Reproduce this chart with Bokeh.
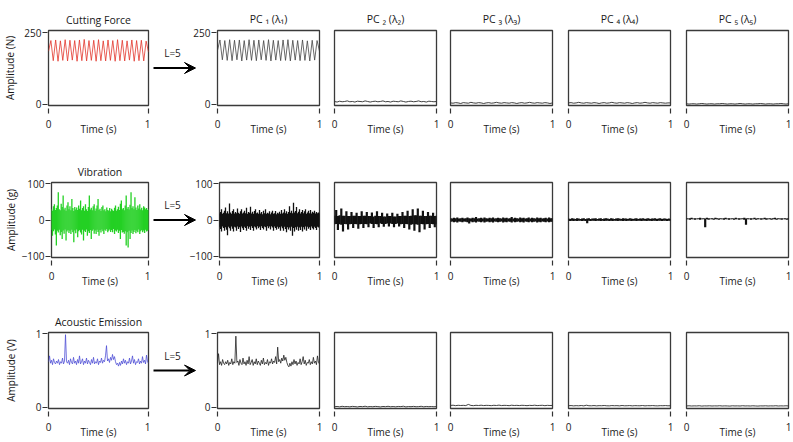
import numpy as np
from bokeh.plotting import figure
from bokeh.layouts import row, column
from bokeh.models import Range1d, FixedTicker, Arrow, VeeHead, Label
from bokeh.embed import file_html
from bokeh.resources import INLINE

# ---------------- data ----------------
row_titles = ["Cutting Force", "Vibration", "Acoustic Emission"]
row_ylabels = ["Amplitude (N)", "Amplitude (g)", "Amplitude (V)"]
pc_titles = ["PC \u2081 (\u03bb\u2081)", "PC \u2082 (\u03bb\u2082)", "PC \u2083 (\u03bb\u2083)",
             "PC \u2084 (\u03bb\u2084)", "PC \u2085 (\u03bb\u2085)"]
x_ticks = [0, 1]
row_yticks = [[0, 250], [-100, 0, 100], [0, 1]]
arrow_text = "L=5"

# cutting force (N)
cf_raw = [185, 222, 152, 224, 150, 221, 153, 225, 151, 223, 154, 222, 150, 224, 152, 226, 151, 222,
          153, 223, 150, 225, 152, 221, 151, 224, 153, 222, 150, 225, 152, 223, 151, 221, 154, 224,
          150, 222, 152, 223, 151, 220, 182]
cf_pc1 = [188, 224, 155, 222, 153, 225, 152, 223, 155, 224, 151, 222, 154, 225, 153, 223, 152, 224,
          155, 222, 153, 225, 151, 223, 154, 222, 152, 224, 153, 225, 151, 223, 154, 222, 152, 224,
          153, 221, 151, 223, 154, 222, 185]
cf_pc2 = [10, 8, 11, 9, 10, 12, 9, 10, 8, 11, 10, 9, 12, 10, 8, 10, 11, 9, 10, 12,
          9, 10, 8, 11, 10, 9, 12, 10, 8, 10, 11, 9, 10, 12, 9, 10, 8, 11, 10, 9, 10]
cf_pc3 = [5, 4, 6, 5, 3, 6, 5, 4, 7, 5, 4, 6, 5, 3, 5, 6, 4, 5, 7, 5,
          4, 6, 5, 4, 6, 5, 3, 5, 6, 4, 5, 7, 5, 4, 6, 5, 4, 6, 5, 3, 5]
cf_pc4 = [5, 6, 4, 5, 7, 5, 4, 6, 5, 4, 6, 5, 3, 5, 6, 4, 5, 7, 5, 4,
          6, 5, 4, 6, 5, 3, 5, 6, 4, 5, 7, 5, 4, 6, 5, 4, 6, 5, 4, 5, 5]
cf_pc5 = [2, 1, 2, 2, 1, 2, 3, 2, 1, 2, 2, 1, 2, 2, 3, 2, 1, 2, 2, 1,
          2, 3, 2, 1, 2, 2, 1, 2, 2, 3, 2, 1, 2, 2, 1, 2, 2, 3, 2, 1, 2]

# vibration (g): upper / lower envelope per sample
vib_raw_up = [30, 26, 38, 44, 28, 33, 40, 77, 30, 27,
              45, 36, 68, 29, 34, 26, 40, 49, 30, 38,
              27, 58, 33, 25, 36, 29, 35, 28, 40, 31,
              54, 27, 33, 38, 26, 44, 30, 25, 36, 68,
              29, 34, 27, 38, 44, 26, 32, 40, 58, 28,
              31, 25, 36, 40, 27, 30, 24, 35, 28, 26,
              33, 24, 31, 27, 25, 34, 40, 26, 30, 37,
              28, 45, 54, 30, 33, 27, 40, 68, 31, 36,
              29, 42, 77, 33, 38, 30, 63, 35, 28, 40,
              32, 44, 29, 34, 27, 38, 35, 30, 33, 28, 30]
vib_raw_lo = [-28, -44, -31, -26, -40, -71, -30, -35, -27, -42,
              -33, -53, -29, -38, -26, -57, -32, -28, -36, -30,
              -39, -27, -34, -62, -29, -37, -26, -48, -31, -28,
              -35, -40, -27, -57, -30, -33, -26, -44, -31, -36,
              -28, -53, -30, -26, -38, -29, -39, -27, -33, -44,
              -28, -35, -26, -31, -39, -27, -30, -25, -34, -30,
              -26, -33, -28, -34, -25, -39, -29, -32, -27, -36,
              -30, -53, -28, -35, -33, -38, -31, -71, -34, -76,
              -30, -53, -36, -29, -39, -33, -28, -37, -30, -34,
              -26, -39, -31, -28, -34, -29, -36, -27, -32, -30, -28]
vib_pc1_up = [18, 22, 30, 17, 20, 26, 35, 19, 24, 18,
              46, 21, 17, 25, 30, 18, 22, 19, 32, 20,
              17, 24, 30, 18, 21, 26, 19, 34, 17, 22,
              20, 37, 18, 23, 17, 25, 30, 19, 21, 17,
              28, 18, 22, 16, 26, 19, 30, 17, 20, 18,
              24, 16, 21, 26, 17, 19, 25, 16, 20, 18,
              23, 17, 28, 18, 21, 30, 19, 24, 17, 22,
              38, 20, 26, 19, 48, 21, 25, 36, 19, 23,
              30, 18, 22, 28, 19, 24, 30, 17, 21, 26,
              19, 28, 18, 23, 20, 26, 18, 22, 19, 21, 18]
vib_pc1_lo = [-19, -25, -32, -18, -22, -30, -20, -27, -42, -19,
              -23, -30, -18, -24, -32, -19, -21, -30, -18, -25,
              -20, -33, -18, -23, -28, -19, -22, -30, -17, -24,
              -19, -28, -17, -22, -30, -18, -21, -26, -17, -23,
              -19, -28, -17, -22, -26, -18, -20, -30, -17, -23,
              -18, -26, -17, -21, -30, -18, -22, -27, -19, -24,
              -20, -30, -18, -23, -30, -19, -25, -34, -20, -26,
              -21, -30, -19, -44, -22, -32, -20, -27, -19, -30,
              -21, -28, -19, -32, -20, -26, -18, -30, -19, -24,
              -20, -28, -18, -23, -26, -19, -22, -28, -19, -21, -18]
vib_pc2_up = [12, 28, 11, 13, 32, 12, 12, 24, 11, 11, 22, 12, 12, 20, 11, 11, 24, 12, 12, 22,
              11, 11, 21, 10, 12, 24, 11, 11, 20, 10, 10, 18, 11, 11, 20, 10, 10, 17, 11, 11,
              22, 12, 12, 26, 11, 12, 30, 13, 13, 32, 12, 12, 26, 11, 11, 22, 12, 12, 20, 11, 12]
vib_pc2_lo = [-12, -11, -28, -12, -13, -32, -11, -12, -26, -12, -11, -22, -11, -12, -24, -12, -11, -22, -11, -12,
              -20, -10, -11, -22, -11, -12, -20, -10, -11, -19, -11, -10, -18, -10, -11, -20, -11, -10, -18, -12,
              -11, -22, -11, -12, -26, -13, -12, -30, -12, -13, -34, -11, -12, -26, -12, -11, -22, -11, -12, -20, -12]
vib_pc3_up = [5, 4, 6, 5, 7, 4, 5, 6, 4, 5, 7, 5, 4, 6, 5, 8, 4, 5, 6, 4,
              7, 5, 4, 6, 5, 7, 4, 5, 6, 5, 4, 7, 5, 6, 4, 5, 8, 4, 6, 5,
              4, 7, 5, 6, 4, 5, 7, 4, 6, 5, 4, 7, 5, 6, 4, 5, 6, 4, 7, 5, 5]
vib_pc3_lo = [-5, -4, -6, -5, -7, -4, -5, -6, -4, -5, -6, -10, -4, -6, -5, -7, -4, -5, -6, -4,
              -7, -5, -4, -6, -5, -7, -4, -5, -6, -5, -4, -7, -5, -6, -4, -5, -7, -4, -6, -5,
              -4, -6, -5, -7, -4, -5, -6, -4, -6, -5, -4, -7, -5, -6, -4, -5, -6, -4, -6, -5, -5]
vib_pc4_up = [4, 3, 5, 4, 3, 5, 4, 3, 4, 5, 3, 4, 5, 3, 4, 4, 5, 3, 4, 5,
              3, 4, 5, 4, 3, 5, 4, 3, 4, 5, 4, 3, 5, 4, 4, 3, 5, 4, 3, 4,
              5, 3, 4, 4, 5, 3, 4, 5, 3, 4, 4, 5, 3, 4, 5, 3, 4, 4, 3, 4, 3]
vib_pc4_lo = [-2, -3, -2, -3, -2, -3, -2, -2, -3, -2, -3, -9, -2, -3, -2, -2, -3, -2, -2, -3,
              -2, -3, -2, -2, -3, -2, -3, -2, -2, -3, -2, -2, -3, -2, -3, -2, -2, -3, -2, -2,
              -3, -2, -2, -3, -2, -2, -3, -2, -2, -3, -2, -2, -3, -2, -2, -3, -2, -2, -3, -2, -2]
vib_pc5_up = [5, 4, 5, 6, 4, 5, 4, 5, 6, 4, 5, 4, 6, 5, 4, 5, 4, 6, 5, 4,
              5, 4, 5, 6, 4, 5, 4, 5, 4, 6, 4, 5, 4, 5, 6, 4, 5, 4, 5, 4,
              6, 4, 5, 4, 5, 4, 6, 5, 4, 5, 4, 5, 6, 4, 5, 4, 5, 4, 5, 4, 5]
vib_pc5_lo = [2, 2, 1, 2, 2, 1, 2, 2, 1, 2, 2, -20, 2, 1, 2, 2, 1, 2, 2, 1,
              2, 2, 1, 2, 2, 1, 2, 2, 1, 2, 2, 1, 2, 2, 1, -13, 2, 2, 1, 2,
              2, 1, 2, 2, 1, 2, 2, 1, 2, 2, 1, 2, 2, 1, 2, 2, 1, 2, 2, 1, 2]

# acoustic emission (V)
ae_raw = [0.62, 0.70, 0.60, 0.64, 0.58, 0.66, 0.61, 0.59, 0.63, 0.60,
          0.65, 0.58, 0.62, 0.60, 0.67, 0.59, 0.63, 0.99, 0.62, 0.60,
          0.64, 0.58, 0.66, 0.61, 0.59, 0.68, 0.60, 0.63, 0.58, 0.65,
          0.60, 0.70, 0.59, 0.62, 0.66, 0.58, 0.63, 0.60, 0.67, 0.59,
          0.64, 0.61, 0.58, 0.65, 0.60, 0.68, 0.59, 0.62, 0.60, 0.66,
          0.58, 0.63, 0.61, 0.67, 0.60, 0.64, 0.62, 0.70, 0.84, 0.63,
          0.66, 0.61, 0.68, 0.64, 0.72, 0.65, 0.69, 0.62, 0.58, 0.60,
          0.56, 0.61, 0.57, 0.63, 0.59, 0.66, 0.60, 0.64, 0.58, 0.62,
          0.60, 0.67, 0.59, 0.63, 0.70, 0.60, 0.65, 0.58, 0.62, 0.61,
          0.66, 0.59, 0.63, 0.60, 0.69, 0.61, 0.64, 0.59, 0.71, 0.62, 0.60]
ae_pc1 = [0.60, 0.73, 0.58, 0.62, 0.57, 0.65, 0.60, 0.58, 0.62, 0.59,
          0.64, 0.57, 0.61, 0.59, 0.66, 0.58, 0.62, 0.60, 0.97, 0.61,
          0.63, 0.57, 0.65, 0.60, 0.58, 0.67, 0.59, 0.62, 0.57, 0.64,
          0.59, 0.69, 0.58, 0.61, 0.65, 0.57, 0.62, 0.59, 0.66, 0.58,
          0.63, 0.60, 0.57, 0.64, 0.59, 0.67, 0.58, 0.61, 0.59, 0.65,
          0.57, 0.62, 0.60, 0.66, 0.59, 0.63, 0.61, 0.69, 0.59, 0.82,
          0.62, 0.65, 0.60, 0.67, 0.63, 0.71, 0.64, 0.68, 0.61, 0.57,
          0.55, 0.60, 0.56, 0.62, 0.58, 0.65, 0.59, 0.63, 0.57, 0.61,
          0.59, 0.66, 0.58, 0.62, 0.69, 0.59, 0.64, 0.57, 0.61, 0.60,
          0.65, 0.58, 0.62, 0.59, 0.68, 0.60, 0.63, 0.58, 0.70, 0.61, 0.59]
ae_pc2 = [0.004, 0.008, 0.003, 0.010, 0.005, 0.007, 0.003, 0.009, 0.006, 0.002,
          0.008, 0.005, 0.011, 0.003, 0.007, 0.004, 0.009, 0.006, 0.002, 0.008,
          0.005, 0.010, 0.004, 0.007, 0.003, 0.008, 0.006, 0.011, 0.002, 0.007,
          0.005, 0.009, 0.004, 0.006, 0.010, 0.003, 0.008, 0.005, 0.007, 0.004, 0.006]
ae_pc3 = [0.022, 0.025, 0.019, 0.024, 0.021, 0.023, 0.020, 0.036, 0.022, 0.019,
          0.024, 0.021, 0.025, 0.020, 0.023, 0.022, 0.019, 0.024, 0.021, 0.026,
          0.020, 0.023, 0.022, 0.019, 0.025, 0.021, 0.023, 0.020, 0.024, 0.022,
          0.019, 0.023, 0.021, 0.025, 0.020, 0.022, 0.024, 0.019, 0.023, 0.021, 0.022]
ae_pc4 = [0.018, 0.020, 0.016, 0.019, 0.017, 0.021, 0.016, 0.025, 0.018, 0.017,
          0.020, 0.016, 0.019, 0.018, 0.021, 0.017, 0.016, 0.020, 0.018, 0.019,
          0.016, 0.021, 0.017, 0.018, 0.020, 0.016, 0.019, 0.018, 0.017, 0.021,
          0.016, 0.019, 0.018, 0.020, 0.017, 0.016, 0.019, 0.018, 0.020, 0.017, 0.018]
ae_pc5 = [0.015, 0.017, 0.014, 0.016, 0.015, 0.018, 0.013, 0.016, 0.015, 0.017,
          0.014, 0.016, 0.015, 0.018, 0.014, 0.016, 0.015, 0.013, 0.017, 0.015,
          0.016, 0.014, 0.018, 0.015, 0.016, 0.014, 0.017, 0.015, 0.013, 0.016,
          0.015, 0.017, 0.014, 0.016, 0.015, 0.018, 0.014, 0.016, 0.015, 0.017, 0.015]

# ---------------- styling / layout ----------------
FONT = "Open Sans"
FRAME_COLOR = "#3a3a3a"
TXT = "#1a1a1a"
row_yranges = [(-4, 257), (-104, 104), (-0.02, 1.02)]
row_heights = [150, 150, 141]
row_top = [30, 32, 32]
row_bottom = [45, 43, 33]
ylab_standoff = [4, 1, 15]
# (width, min_border_left, min_border_right) for col1, PC1..PC5
col_geo = [(150, 46, 2), (140, 31, 7), (116, 8, 6), (117, 8, 7), (118, 9, 7), (115, 9, 4)]
ARROW_W = 50
PC1_OVERLAP = 14


def make_fig(r, c, title=None):
    w, lb, rb = col_geo[c]
    kw = dict(width=w, height=row_heights[r], x_range=Range1d(0, 1),
              y_range=Range1d(*row_yranges[r]), output_backend="svg",
              toolbar_location=None, min_border_left=lb, min_border_right=rb,
              min_border_top=row_top[r], min_border_bottom=row_bottom[r])
    if c > 1:
        kw["y_axis_location"] = None
    if c == 1:
        kw["margin"] = (0, 0, 0, -PC1_OVERLAP)
    p = figure(**kw)
    p.grid.visible = False
    p.outline_line_color = FRAME_COLOR
    p.outline_line_width = 1.3
    p.outline_line_alpha = 1.0
    p.background_fill_color = "white"
    p.border_fill_color = "white"
    if c == 1:
        p.border_fill_alpha = 0.0
    if title:
        p.title.text = title
        p.title.text_font = FONT
        p.title.text_font_size = "10.5px"
        p.title.text_font_style = "normal"
        p.title.text_color = TXT
        p.title.align = "center"
        p.title.standoff = 7 if c == 0 else 10
    xa = p.xaxis[0]
    xa.ticker = FixedTicker(ticks=x_ticks)
    xa.axis_line_color = None
    xa.major_tick_in = -3
    xa.major_tick_out = 8
    xa.major_tick_line_color = "#333333"
    xa.major_tick_line_width = 1.2
    xa.minor_tick_line_color = None
    xa.major_label_standoff = 6
    xa.major_label_text_font = FONT
    xa.major_label_text_font_size = "10px"
    xa.major_label_text_color = TXT
    xa.axis_label = "Time (s)"
    xa.axis_label_text_font = FONT
    xa.axis_label_text_font_size = "10px"
    xa.axis_label_text_font_style = "normal"
    xa.axis_label_text_color = TXT
    xa.axis_label_standoff = -9
    if c <= 1:
        ya = p.yaxis[0]
        ya.ticker = FixedTicker(ticks=row_yticks[r])
        ya.axis_line_color = None
        ya.major_tick_in = -1
        ya.major_tick_out = 6
        ya.major_tick_line_color = "#333333"
        ya.major_tick_line_width = 1.2
        ya.minor_tick_line_color = None
        ya.major_label_standoff = 1
        ya.major_label_text_font = FONT
        ya.major_label_text_font_size = "10px"
        ya.major_label_text_color = TXT
        if c == 0:
            ya.axis_label = row_ylabels[r]
            ya.axis_label_text_font = FONT
            ya.axis_label_text_font_size = "10px"
            ya.axis_label_text_font_style = "normal"
            ya.axis_label_text_color = TXT
            ya.axis_label_standoff = ylab_standoff[r]
    return p


def arrow_fig(r):
    y0, y1 = row_yranges[r]
    ym = (y0 + y1) / 2
    p = figure(width=ARROW_W, height=row_heights[r], x_range=Range1d(0, 1),
               y_range=Range1d(y0, y1), output_backend="svg", toolbar_location=None,
               x_axis_location=None, y_axis_location=None,
               min_border_left=0, min_border_right=0,
               min_border_top=row_top[r], min_border_bottom=row_bottom[r])
    p.grid.visible = False
    p.outline_line_color = None
    p.background_fill_color = "white"
    p.border_fill_color = "white"
    p.add_layout(Arrow(end=VeeHead(size=11, fill_color="black", line_color="black"),
                       x_start=0.06, y_start=ym, x_end=0.90, y_end=ym,
                       line_width=2, line_color="black"))
    p.add_layout(Label(x=0.44, y=ym, y_offset=15, text=arrow_text, text_align="center",
                       text_baseline="middle", text_font=FONT, text_font_size="10px",
                       text_color=TXT))
    return p


def tt(arr):
    return np.linspace(0, 1, len(arr))


def line_panel(p, vals, color, width=0.8):
    p.line(tt(vals), vals, line_color=color, line_width=width)


def vib_panel(p, up, lo, color, width=2.2):
    t = tt(up)
    p.segment(x0=t, y0=lo, x1=t, y1=up, line_color=color, line_width=width)


rows = []
# row 1: cutting force
figs = []
p = make_fig(0, 0, row_titles[0]); line_panel(p, cf_raw, "#e2352b", 0.8); figs.append(p)
figs.append(arrow_fig(0))
p = make_fig(0, 1, pc_titles[0]); line_panel(p, cf_pc1, "#444444", 0.8); figs.append(p)
for k, vals in enumerate([cf_pc2, cf_pc3, cf_pc4, cf_pc5]):
    p = make_fig(0, k + 2, pc_titles[k + 1]); line_panel(p, vals, "#2a2a2a", 0.9); figs.append(p)
rows.append(row(*figs))

# row 2: vibration
figs = []
p = make_fig(1, 0, row_titles[1]); vib_panel(p, vib_raw_up, vib_raw_lo, "#24d024", 1.3); figs.append(p)
figs.append(arrow_fig(1))
p = make_fig(1, 1); vib_panel(p, vib_pc1_up, vib_pc1_lo, "#111111", 1.3); figs.append(p)
for k, (u, l) in enumerate([(vib_pc2_up, vib_pc2_lo), (vib_pc3_up, vib_pc3_lo),
                            (vib_pc4_up, vib_pc4_lo), (vib_pc5_up, vib_pc5_lo)]):
    p = make_fig(1, k + 2); vib_panel(p, u, l, "#111111"); figs.append(p)
rows.append(row(*figs))

# row 3: acoustic emission
figs = []
p = make_fig(2, 0, row_titles[2]); line_panel(p, ae_raw, "#4f4fd6", 0.8); figs.append(p)
figs.append(arrow_fig(2))
p = make_fig(2, 1); line_panel(p, ae_pc1, "#222222", 0.8); figs.append(p)
for k, vals in enumerate([ae_pc2, ae_pc3, ae_pc4, ae_pc5]):
    p = make_fig(2, k + 2); line_panel(p, vals, "#2a2a2a", 0.9); figs.append(p)
rows.append(row(*figs))

layout = column(*rows)
open("out.html", "w").write(file_html(layout, INLINE))
